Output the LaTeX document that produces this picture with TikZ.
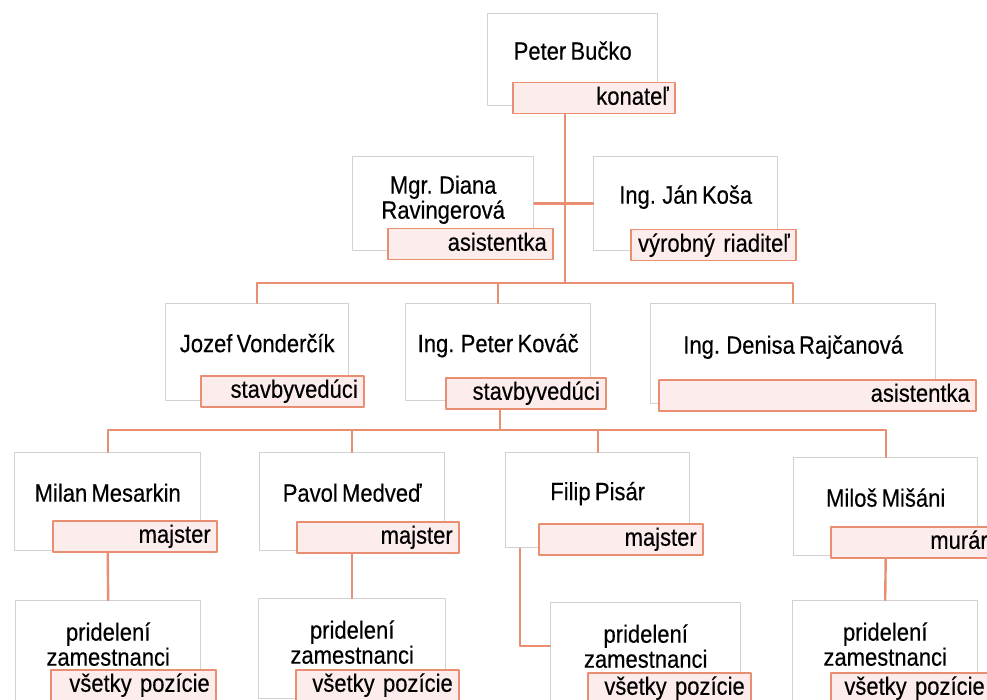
\documentclass[tikz,border=0pt]{standalone}
\usepackage{fontspec}
\setmainfont{Liberation Sans}[FakeStretch=0.88, WordSpace=0.7, FakeBold=0.3]
\definecolor{lineor}{RGB}{234,142,114}
\definecolor{rolefill}{RGB}{252,237,236}
\begin{document}
\begin{tikzpicture}[line cap=round, line join=round, font=\fontsize{25}{25}\selectfont, x=1pt, y=-1pt]
	\tikzset{persbox/.style={draw=black!18, line width=1.4pt, fill=white, anchor=north west, inner sep=0pt, text height=18pt, text depth=18pt},
		tworow/.style={align=center, text height=42pt, text depth=12pt},
		rolebox/.style={draw=lineor, fill=rolefill, line width=1.5pt, anchor=north west, inner xsep=6pt, inner ysep=0pt, text width=#1, align=right, minimum height=31pt, text height=18pt, text depth=5pt},
		conn/.style={draw=lineor, line width=2.4pt}}
	\useasboundingbox (0,0) rectangle (987,700);
	\clip (0,0) rectangle (987,700);
	\node[persbox, minimum width=170pt, minimum height=92pt] (bucko) at (487,13) {Peter Bučko};
	\node[rolebox=150pt] (buckoR) at (512,82) {konateľ};
	\node[persbox, tworow, minimum width=181pt, minimum height=94pt] (diana) at (352,156) {Mgr. Diana\\Ravingerová};
	\node[rolebox=153pt] (dianaR) at (387,228) {asistentka};
	\node[persbox, minimum width=184pt, minimum height=94pt] (kosa) at (593,156) {Ing. Ján Koša};
	\node[rolebox=153pt] (kosaR) at (630,229) {výrobný riaditeľ};
	\node[persbox, minimum width=183pt, minimum height=97pt] (jozef) at (165,303) {Jozef Vonderčík};
	\node[rolebox=151pt] (jozefR) at (200,375) {stavbyvedúci};
	\node[persbox, minimum width=185pt, minimum height=97pt] (kovac) at (405,303) {Ing. Peter Kováč};
	\node[rolebox=148pt] (kovacR) at (445,377) {stavbyvedúci};
	\node[persbox, minimum width=285pt, minimum height=100pt] (rajcan) at (650,303) {Ing. Denisa Rajčanová};
	\node[rolebox=305pt] (rajcanR) at (658,379) {asistentka};
	\node[persbox, minimum width=186pt, minimum height=98pt] (milan) at (14,452) {Milan Mesarkin};
	\node[rolebox=152pt] (milanR) at (52,520) {majster};
	\node[persbox, minimum width=185pt, minimum height=98pt] (pavol) at (259,452) {Pavol Medveď};
	\node[rolebox=150pt] (pavolR) at (296,521) {majster};
	\node[persbox, minimum width=184pt, minimum height=95pt] (filip) at (505,452) {Filip Pisár};
	\node[rolebox=152pt] (filipR) at (538,523) {majster};
	\node[persbox, minimum width=184pt, minimum height=98pt] (milos) at (793,457) {Miloš Mišáni};
	\node[rolebox=151pt] (milosR) at (830,526) {murár};
	\node[persbox, tworow, minimum width=185pt, minimum height=100pt] (prid1) at (15,600) {pridelení\\zamestnanci};
	\node[rolebox=153pt] (prid1R) at (50,669) {všetky pozície};
	\node[persbox, tworow, minimum width=187pt, minimum height=100pt] (prid2) at (258,598) {pridelení\\zamestnanci};
	\node[rolebox=151pt] (prid2R) at (295,669) {všetky pozície};
	\node[persbox, tworow, minimum width=190pt, minimum height=100pt] (prid3) at (550,602) {pridelení\\zamestnanci};
	\node[rolebox=151pt] (prid3R) at (587,672) {všetky pozície};
	\node[persbox, tworow, minimum width=185pt, minimum height=100pt] (prid4) at (792,600) {pridelení\\zamestnanci};
	\node[rolebox=148pt] (prid4R) at (830,672) {všetky pozície};
	\coordinate (j1) at (565,283);
	\coordinate (j2) at (500,430);
	\draw[conn] (buckoR.south -| j1) -- (j1);
	\draw[conn] (diana.east) -- (kosa.west);
	\draw[conn] (jozef.north) |- (j1) -| (rajcan.north);
	\draw[conn] (kovac.north) -- (kovac.north |- j1);
	\draw[conn] (kovacR.south -| j2) -- (j2);
	\draw[conn] (milan.north) |- (j2) -| (milos.north);
	\draw[conn] (pavol.north) -- (pavol.north |- j2);
	\draw[conn] (filip.north) -- (filip.north |- j2);
	\draw[conn] (milanR.south -| milan) -- (prid1.north);
	\draw[conn] (pavolR.south -| pavol) -- (prid2.north);
	\draw[conn] ([xshift=15pt]filip.south west) |- ([yshift=7pt]prid3.west);
	\draw[conn] (milosR.south -| milos) -- (prid4.north);
\end{tikzpicture}
\end{document}
